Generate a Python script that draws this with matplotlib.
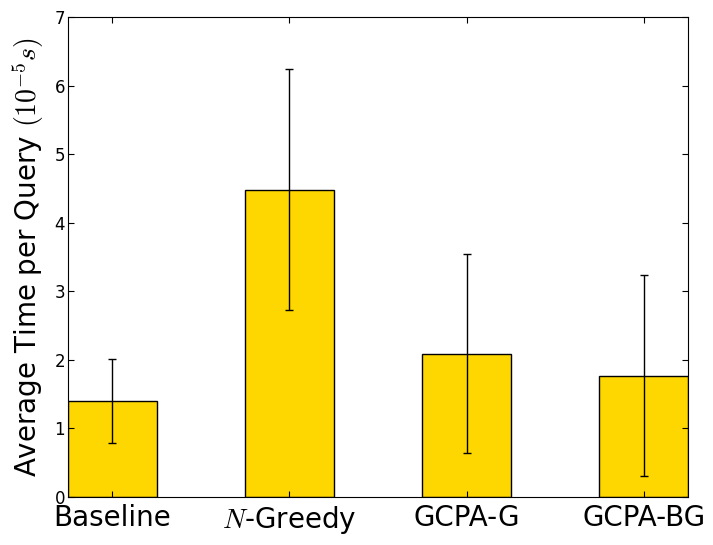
import numpy as np
import matplotlib
matplotlib.use("Agg")
import matplotlib.pyplot as plt

methods = ["Baseline", r"$N$-Greedy", "GCPA-G", "GCPA-BG"]
avg_time = [1.40, 4.48, 2.09, 1.77]
err = [0.61, 1.76, 1.45, 1.47]

plt.rcParams['mathtext.fontset'] = 'cm'
plt.rcParams['xtick.direction'] = 'in'
plt.rcParams['ytick.direction'] = 'in'
plt.rcParams['xtick.top'] = True
plt.rcParams['ytick.right'] = True

fig = plt.figure(figsize=(7.13, 5.45), dpi=100)
ax = fig.add_axes([68/713, 48/545, 620/713, 480/545])

x = np.arange(len(methods))
ax.bar(x, avg_time, width=0.5, color='#FFD700', edgecolor='black', linewidth=1,
       yerr=err, error_kw=dict(ecolor='black', elinewidth=1, capsize=3, capthick=1))

ax.set_xlim(-0.25, 3.25)
ax.set_ylim(0, 7)
ax.set_xticks(x)
ax.set_xticklabels(methods, fontsize=20)
ax.tick_params(axis='x', length=4, width=0.8, pad=5)
ax.tick_params(axis='y', labelsize=12, length=4, width=0.8, pad=2)
ax.set_ylabel(r"Average Time per Query $(10^{-5}s)$", fontsize=20, labelpad=6)

fig.savefig("out.png", dpi=100)
